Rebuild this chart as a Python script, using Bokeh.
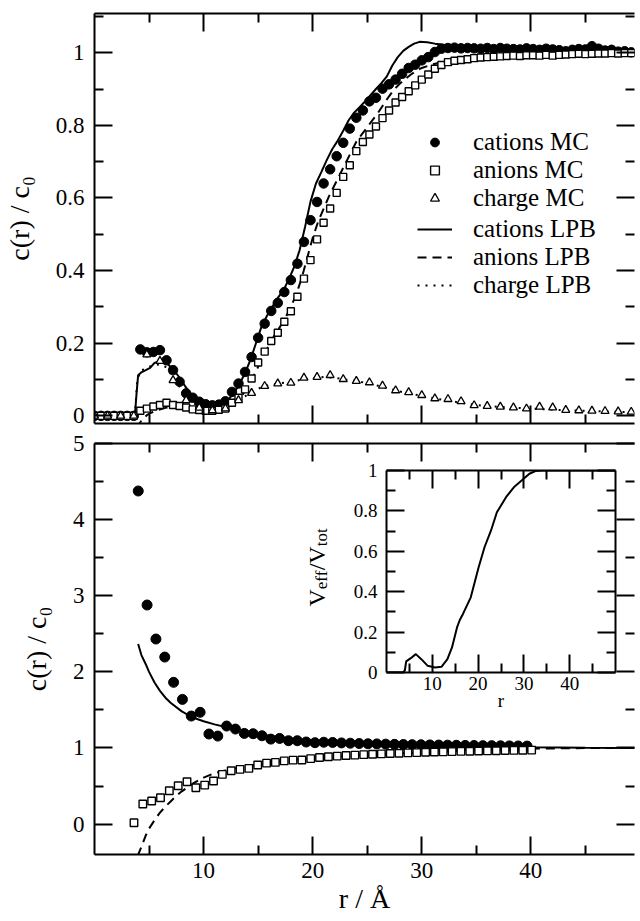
from bokeh.plotting import figure
from bokeh.models import (Range1d, LinearAxis, FixedTicker, CustomJSTickFormatter,
                          Legend, LegendItem, Label)
from bokeh.layouts import column
from bokeh.embed import file_html
from bokeh.resources import INLINE
import math

FONT = "Liberation Serif"

# ---------------- data: upper panel (c(r)/c0, MC and LPB) ----------------
r_mc = [0.0, 0.6, 1.2, 1.8, 2.4, 3.0, 3.6, 4.2, 4.8, 5.4, 6.0, 6.6, 7.2, 7.8, 8.4, 9.0,
        9.6, 10.2, 10.8, 11.4, 12.0, 12.6, 13.2, 13.8, 14.4, 15.0, 15.6, 16.2, 16.8, 17.4,
        18.0, 18.6, 19.2, 19.8, 20.4, 21.0, 21.6, 22.2, 22.8, 23.4, 24.0, 24.6, 25.2, 25.8,
        26.4, 27.0, 27.6, 28.2, 28.8, 29.4, 30.0, 30.6, 31.2, 31.8, 32.4, 33.0, 33.6, 34.2,
        34.8, 35.4, 36.0, 36.6, 37.2, 37.8, 38.4, 39.0, 39.6, 40.2, 40.8, 41.4, 42.0, 42.6,
        43.2, 43.8, 44.4, 45.0, 45.6, 46.2, 46.8, 47.4, 48.0, 48.6, 49.2]
cations_mc = [0, 0, 0, 0, 0, 0, 0, 0.183, 0.175, 0.176, 0.181, 0.153, 0.126, 0.094, 0.062, 0.050,
              0.039, 0.032, 0.029, 0.031, 0.040, 0.066, 0.089, 0.121, 0.162, 0.215, 0.254, 0.289,
              0.311, 0.341, 0.374, 0.419, 0.479, 0.539, 0.589, 0.640, 0.679, 0.715, 0.752, 0.791,
              0.821, 0.841, 0.866, 0.876, 0.901, 0.913, 0.926, 0.942, 0.958, 0.967, 0.979, 0.988,
              1.002, 1.011, 1.013, 1.014, 1.012, 1.013, 1.012, 1.011, 1.013, 1.010, 1.013, 1.011,
              1.010, 1.009, 1.012, 1.010, 1.008, 1.011, 1.009, 1.007, 1.004, 1.008, 1.010, 1.009,
              1.018, 1.011, 1.006, 1.008, 1.003, 1.004, 1.001]
anions_mc = [0, 0, 0, 0, 0, 0, 0, 0.014, 0.020, 0.026, 0.030, 0.036, 0.030, 0.027, 0.023, 0.018,
             0.016, 0.014, 0.014, 0.017, 0.020, 0.036, 0.050, 0.073, 0.103, 0.147, 0.177, 0.206,
             0.229, 0.259, 0.288, 0.328, 0.378, 0.429, 0.486, 0.532, 0.571, 0.614, 0.658, 0.690,
             0.729, 0.754, 0.775, 0.797, 0.820, 0.841, 0.863, 0.878, 0.894, 0.910, 0.926, 0.940,
             0.956, 0.966, 0.974, 0.978, 0.980, 0.982, 0.985, 0.987, 0.988, 0.989, 0.990, 0.991,
             0.992, 0.991, 0.993, 0.993, 0.992, 0.994, 0.992, 0.994, 0.995, 0.996, 0.997, 0.996,
             0.997, 0.998, 0.998, 0.999, 0.998, 0.999, 0.999]
r_charge_mc = [0.0, 1.2, 2.4, 3.6, 4.8, 6.0, 7.2, 8.4, 9.6, 10.8, 12.0, 13.2, 14.4, 15.6, 16.8,
               18.0, 19.2, 20.4, 21.6, 22.8, 24.0, 25.2, 26.4, 27.6, 28.8, 30.0, 31.2, 32.4,
               33.6, 34.8, 36.0, 37.2, 38.4, 39.6, 40.8, 42.0, 43.2, 44.4, 45.6, 46.8, 48.0, 49.2]
charge_mc = [0, 0, 0, 0, 0.169, 0.151, 0.098, 0.043, 0.022, 0.015, 0.020, 0.043, 0.063, 0.082,
             0.089, 0.091, 0.105, 0.107, 0.112, 0.101, 0.096, 0.092, 0.083, 0.070, 0.065, 0.057,
             0.048, 0.046, 0.040, 0.029, 0.027, 0.025, 0.023, 0.020, 0.025, 0.023, 0.016, 0.015,
             0.014, 0.013, 0.012, 0.011]

r_cat_lpb = [0, 3.7, 3.85, 4.0, 4.3, 4.7, 5.1, 5.5, 6.0, 6.4, 6.8, 7.3, 7.8, 8.3, 8.8, 9.3, 9.8,
             10.3, 10.8, 11.3, 11.8, 12.3, 12.8, 13.3, 13.8, 14.3, 14.8, 15.3, 15.8, 16.3, 16.8,
             17.3, 17.8, 18.3, 18.8, 19.3, 19.8, 20.3, 20.8, 21.3, 21.8, 22.3, 22.8, 23.3, 23.8,
             24.3, 24.8, 25.3, 25.8, 26.3, 26.8, 27.3, 27.8, 28.3, 28.8, 29.3, 29.8, 30.5, 31.2,
             32.0, 33.0, 34.0, 36.0, 38.0, 40.0, 42.0, 44.0, 46.0, 48.0, 50.0]
cations_lpb = [0, 0, 0.06, 0.112, 0.120, 0.126, 0.132, 0.146, 0.151, 0.156, 0.140, 0.125, 0.105,
               0.082, 0.062, 0.048, 0.038, 0.032, 0.029, 0.029, 0.034, 0.046, 0.064, 0.088, 0.118,
               0.155, 0.200, 0.245, 0.275, 0.300, 0.325, 0.345, 0.375, 0.410, 0.456, 0.520, 0.590,
               0.640, 0.672, 0.705, 0.735, 0.758, 0.785, 0.814, 0.835, 0.850, 0.866, 0.883, 0.900,
               0.916, 0.935, 0.965, 0.988, 1.005, 1.016, 1.025, 1.030, 1.029, 1.025, 1.022, 1.016,
               1.013, 1.012, 1.011, 1.010, 1.009, 1.008, 1.006, 1.004, 1.002]
r_an_lpb = [3.9, 4.3, 4.8, 5.3, 5.8, 6.5, 7.2, 8.0, 9.0, 10.0, 11.0, 12.0, 12.5, 13.0, 13.5, 14.0,
            14.5, 15.0, 15.5, 16.0, 16.5, 17.0, 17.5, 18.0, 18.5, 19.0, 19.5, 20.0, 20.5, 21.0,
            21.5, 22.0, 22.5, 23.0, 23.5, 24.0, 24.5, 25.0, 25.5, 26.0, 26.5, 27.0, 27.5, 28.0,
            28.5, 29.0, 29.5, 30.0, 31.0, 32.0, 33.0, 34.0, 36.0, 38.0, 40.0, 43.0, 46.0, 50.0]
anions_lpb = [-0.035, -0.012, 0.002, 0.010, 0.016, 0.022, 0.025, 0.024, 0.020, 0.016, 0.015, 0.019,
              0.026, 0.038, 0.055, 0.078, 0.105, 0.135, 0.165, 0.195, 0.222, 0.245, 0.270, 0.300,
              0.335, 0.380, 0.435, 0.490, 0.535, 0.570, 0.605, 0.635, 0.665, 0.695, 0.725, 0.755,
              0.775, 0.795, 0.815, 0.835, 0.858, 0.880, 0.900, 0.915, 0.928, 0.940, 0.950, 0.958,
              0.968, 0.975, 0.980, 0.984, 0.988, 0.991, 0.993, 0.996, 0.998, 1.000]
r_ch_lpb = [0, 3.7, 3.9, 4.2, 4.6, 5.0, 5.5, 6.0, 6.5, 7.0, 7.5, 8.0, 8.5, 9.0, 9.5, 10.0, 11.0,
            12.0, 13.0, 14.0, 15.0, 16.0, 17.0, 18.0, 19.0, 20.0, 21.0, 22.0, 23.0, 24.0, 25.0,
            26.0, 27.0, 28.0, 29.0, 30.0, 31.0, 32.0, 33.0, 34.0, 35.0, 36.0, 38.0, 40.0, 42.0,
            44.0, 46.0, 48.0, 50.0]
charge_lpb = [0, 0, 0.09, 0.125, 0.128, 0.135, 0.140, 0.142, 0.135, 0.115, 0.093, 0.072, 0.052,
              0.037, 0.027, 0.020, 0.015, 0.018, 0.035, 0.058, 0.075, 0.085, 0.090, 0.093, 0.100,
              0.104, 0.107, 0.105, 0.100, 0.096, 0.090, 0.083, 0.075, 0.067, 0.061, 0.055, 0.049,
              0.044, 0.039, 0.034, 0.030, 0.027, 0.023, 0.020, 0.017, 0.015, 0.013, 0.011, 0.010]

# ---------------- data: lower panel ----------------
r_cat_b = [4.01, 4.82, 5.63, 6.44, 7.25, 8.06, 8.87, 9.68, 10.49, 11.3, 12.11, 12.92, 13.73,
           14.54, 15.35, 16.16, 16.97, 17.78, 18.59, 19.4, 20.21, 21.02, 21.83, 22.64, 23.45,
           24.26, 25.07, 25.88, 26.69, 27.5, 28.31, 29.12, 29.93, 30.74, 31.55, 32.36, 33.17,
           33.98, 34.79, 35.6, 36.41, 37.22, 38.03, 38.84, 39.65]
cations_b = [4.376, 2.878, 2.431, 2.194, 1.862, 1.638, 1.419, 1.468, 1.183, 1.156, 1.288, 1.248,
             1.191, 1.187, 1.160, 1.116, 1.125, 1.095, 1.095, 1.078, 1.069, 1.075, 1.072, 1.066,
             1.062, 1.058, 1.055, 1.053, 1.050, 1.047, 1.045, 1.043, 1.042, 1.040, 1.038, 1.037,
             1.035, 1.033, 1.032, 1.030, 1.030, 1.028, 1.027, 1.026, 1.024]
r_an_b = [3.62, 4.43, 5.24, 6.05, 6.86, 7.67, 8.48, 9.29, 10.1, 10.91, 11.72, 12.53, 13.34,
          14.15, 14.96, 15.77, 16.58, 17.39, 18.2, 19.01, 19.82, 20.63, 21.44, 22.25, 23.06,
          23.87, 24.68, 25.49, 26.3, 27.11, 27.92, 28.73, 29.54, 30.35, 31.16, 31.97, 32.78,
          33.59, 34.4, 35.21, 36.02, 36.83, 37.64, 38.45, 39.26, 40.07]
anions_b = [0.017, 0.263, 0.302, 0.346, 0.438, 0.503, 0.556, 0.477, 0.512, 0.565, 0.653, 0.700,
            0.719, 0.732, 0.776, 0.800, 0.810, 0.830, 0.840, 0.842, 0.860, 0.875, 0.885, 0.893,
            0.900, 0.906, 0.912, 0.918, 0.922, 0.927, 0.931, 0.935, 0.939, 0.943, 0.946, 0.949,
            0.952, 0.955, 0.957, 0.960, 0.962, 0.964, 0.966, 0.968, 0.970, 0.972]
r_lpb_b = [4.0, 4.3, 4.7, 5.0, 5.5, 6.0, 6.5, 7.0, 8.0, 9.0, 10.0, 11.0, 12.0, 13.0, 14.0, 15.0,
           16.0, 18.0, 20.0, 22.0, 25.0, 28.0, 31.0, 35.0, 40.0, 45.0, 50.0]
cations_lpb_b = [2.365, 2.22, 2.10, 2.0, 1.86, 1.75, 1.66, 1.59, 1.48, 1.40, 1.35, 1.31, 1.275,
                 1.24, 1.21, 1.18, 1.16, 1.12, 1.095, 1.075, 1.055, 1.04, 1.03, 1.018, 1.008,
                 1.003, 1.0]
r_an_lpb_b = [3.95, 4.3, 4.7, 5.0, 5.5, 6.0, 6.5, 7.0, 7.5, 8.0, 9.0, 10.0, 11.0, 12.0, 13.0,
              14.0, 16.0, 18.0, 20.0, 22.0, 25.0, 28.0, 31.0, 35.0, 40.0, 45.0, 50.0]
anions_lpb_b = [-0.42, -0.30, -0.15, -0.06, 0.05, 0.15, 0.23, 0.30, 0.37, 0.43, 0.53, 0.61, 0.67,
                0.705, 0.735, 0.76, 0.805, 0.84, 0.865, 0.885, 0.91, 0.93, 0.95, 0.97, 0.99,
                0.998, 1.0]

# ---------------- data: inset (effective volume fraction) ----------------
r_inset = [0, 3.6, 4.0, 4.3, 5.3, 6.4, 7.6, 9.0, 10.6, 12.0, 13.3, 14.3, 15.4, 16.0, 16.7,
           18.4, 20.1, 21.4, 22.8, 24.1, 26.1, 27.8, 29.5, 31.2, 32.5, 34.0, 35.0, 40.0, 45.0, 50.0]
v_eff = [0, 0, 0.01, 0.055, 0.071, 0.091, 0.066, 0.033, 0.025, 0.028, 0.066, 0.124, 0.223, 0.26,
         0.29, 0.372, 0.52, 0.62, 0.702, 0.793, 0.868, 0.917, 0.95, 0.984, 0.997, 1.0, 1.0, 1.0,
         1.0, 1.0]

x_major = [10, 20, 30, 40]
x_minor = [5, 15, 25, 35, 45]

fmt = CustomJSTickFormatter(code="return String(Math.round(tick*10)/10)")


def style_axis(ax, ticks, minor, labels, size="23px", line=True, standoff=10):
    ax.ticker = FixedTicker(ticks=ticks, minor_ticks=minor)
    ax.major_tick_in = 18
    ax.major_tick_out = 0
    ax.minor_tick_in = 9
    ax.minor_tick_out = 0
    ax.major_tick_line_width = 2
    ax.minor_tick_line_width = 2
    ax.major_tick_line_color = "black"
    ax.minor_tick_line_color = "black"
    ax.axis_line_width = 2
    ax.axis_line_color = "black" if line else None
    ax.formatter = fmt
    if labels:
        ax.major_label_text_font = FONT
        ax.major_label_text_font_size = size
        ax.major_label_text_color = "black"
        ax.major_label_standoff = standoff
    else:
        ax.major_label_text_color = None
        ax.major_label_standoff = 0


def title_style(ax, text, size, standoff):
    ax.axis_label = text
    ax.axis_label_text_font = FONT
    ax.axis_label_text_font_size = size
    ax.axis_label_text_font_style = "normal"
    ax.axis_label_text_color = "black"
    ax.axis_label_standoff = standoff


def base_fig(w, h, xr, yr, left, right, top, bottom):
    p = figure(width=w, height=h, x_range=xr, y_range=yr, output_backend="svg",
               toolbar_location=None, min_border_left=left, min_border_right=right,
               min_border_top=top, min_border_bottom=bottom)
    p.outline_line_color = None
    p.xgrid.visible = False
    p.ygrid.visible = False
    p.background_fill_color = "white"
    return p


# ---------------- upper panel ----------------
top = base_fig(640, 429, Range1d(0, 49.5), Range1d(-0.021, 1.108), 92, 0, 13, 6)
y_top_major = [0, 0.2, 0.4, 0.6, 0.8, 1.0]
y_top_minor = [0.1, 0.3, 0.5, 0.7, 0.9, 1.1]
style_axis(top.xaxis[0], x_major, x_minor, False)
style_axis(top.yaxis[0], y_top_major, y_top_minor, True)
title_style(top.yaxis[0], "c(r) / c\u2080", "28px", 18)
ax = LinearAxis(); style_axis(ax, x_major, x_minor, False); top.add_layout(ax, "above")
ax = LinearAxis(); style_axis(ax, y_top_major, y_top_minor, False, line=False); top.add_layout(ax, "right")

l_cat = top.line(r_cat_lpb, cations_lpb, line_color="black", line_width=2)
l_an = top.line(r_an_lpb, anions_lpb, line_color="black", line_width=2, line_dash="9 6")
l_ch = top.line(r_ch_lpb, charge_lpb, line_color="black", line_width=2, line_dash="2 6")
s_cat = top.scatter(r_mc, cations_mc, marker="circle", size=9.5, fill_color="black", line_color="black")
s_an = top.scatter(r_mc, anions_mc, marker="square", size=7, fill_color="white",
                   line_color="black", line_width=1.4)
s_ch = top.scatter(r_charge_mc, charge_mc, marker="triangle", size=8, fill_color="white",
                   line_color="black", line_width=1.3)


def make_legend(items, loc):
    lg = Legend(items=items, location=loc)
    lg.border_line_color = None
    lg.background_fill_alpha = 0
    lg.padding = 0
    lg.margin = 0
    lg.spacing = -1
    lg.glyph_width = 35
    lg.glyph_height = 22
    lg.label_standoff = 21
    lg.label_height = 22
    lg.label_text_font = FONT
    lg.label_text_font_size = "25px"
    lg.label_text_color = "black"
    return lg


top.add_layout(make_legend([LegendItem(label="cations MC", renderers=[s_cat]),
                            LegendItem(label="anions MC", renderers=[s_an]),
                            LegendItem(label="charge MC", renderers=[s_ch])], (323, 211)))
top.add_layout(make_legend([LegendItem(label="cations LPB", renderers=[l_cat]),
                            LegendItem(label="anions LPB", renderers=[l_an]),
                            LegendItem(label="charge LPB", renderers=[l_ch])], (323, 124)))

# ---------------- lower panel ----------------
bot = base_fig(640, 492, Range1d(0, 49.5), Range1d(-0.4, 5.0), 92, 0, 14, 67)
y_bot_major = [0, 1, 2, 3, 4, 5]
y_bot_minor = [0.5, 1.5, 2.5, 3.5, 4.5]
style_axis(bot.xaxis[0], x_major, x_minor, True, standoff=8)
title_style(bot.xaxis[0], "r / \u00c5", "28px", 2)
style_axis(bot.yaxis[0], y_bot_major, y_bot_minor, True)
title_style(bot.yaxis[0], "c(r) / c\u2080", "28px", 18)
ax = LinearAxis(); style_axis(ax, x_major, x_minor, False); bot.add_layout(ax, "above")
ax = LinearAxis(); style_axis(ax, y_bot_major, y_bot_minor, False, line=False); bot.add_layout(ax, "right")

bot.line(r_lpb_b, cations_lpb_b, line_color="black", line_width=2)
bot.line(r_an_lpb_b, anions_lpb_b, line_color="black", line_width=2, line_dash="9 6")
bot.scatter(r_cat_b, cations_b, marker="circle", size=10, fill_color="black", line_color="black")
bot.scatter(r_an_b, anions_b, marker="square", size=7.5, fill_color="white",
            line_color="black", line_width=1.4)

# inset y-axis title (V_eff / V_tot), drawn as text pieces in the lower panel
for txt, sz, xo, yo in [("V", "24px", 20.42, 2.86), ("eff", "17px", 20.78, 3.086),
                        ("/V", "24px", 20.42, 3.334), ("tot", "17px", 20.78, 3.65)]:
    bot.add_layout(Label(x=xo, y=yo, text=txt, angle=math.pi / 2, text_font=FONT,
                         text_font_size=sz, text_color="black",
                         text_baseline="alphabetic", text_align="left"))

# ---------------- inset ----------------
ins = figure(width=329, height=266, x_range=Range1d(0, 50), y_range=Range1d(0, 1),
             output_backend="svg", toolbar_location=None, min_border_left=75,
             min_border_right=6, min_border_top=14, min_border_bottom=50)
ins.outline_line_color = None
ins.xgrid.visible = False
ins.ygrid.visible = False
ins.background_fill_color = "white"
ins.border_fill_color = None
yi_major = [0, 0.2, 0.4, 0.6, 0.8, 1.0]
yi_minor = [0.1, 0.3, 0.5, 0.7, 0.9]
style_axis(ins.xaxis[0], x_major, x_minor, True, size="19px", standoff=4)
title_style(ins.xaxis[0], "r", "19px", -3)
style_axis(ins.yaxis[0], yi_major, yi_minor, True, size="19px", standoff=9)
ax = LinearAxis(); style_axis(ax, x_major, x_minor, False); ins.add_layout(ax, "above")
ax = LinearAxis(); style_axis(ax, yi_major, yi_minor, False); ins.add_layout(ax, "right")
ins.line(r_inset, v_eff, line_color="black", line_width=2)

# place inset over the lower panel: (top, right, bottom, left)
ins.margin = (456 - 921, 640 - 329 - 292, 0, 292)

layout = column(top, bot, ins, spacing=0)
open("out.html", "w").write(file_html(layout, INLINE))
